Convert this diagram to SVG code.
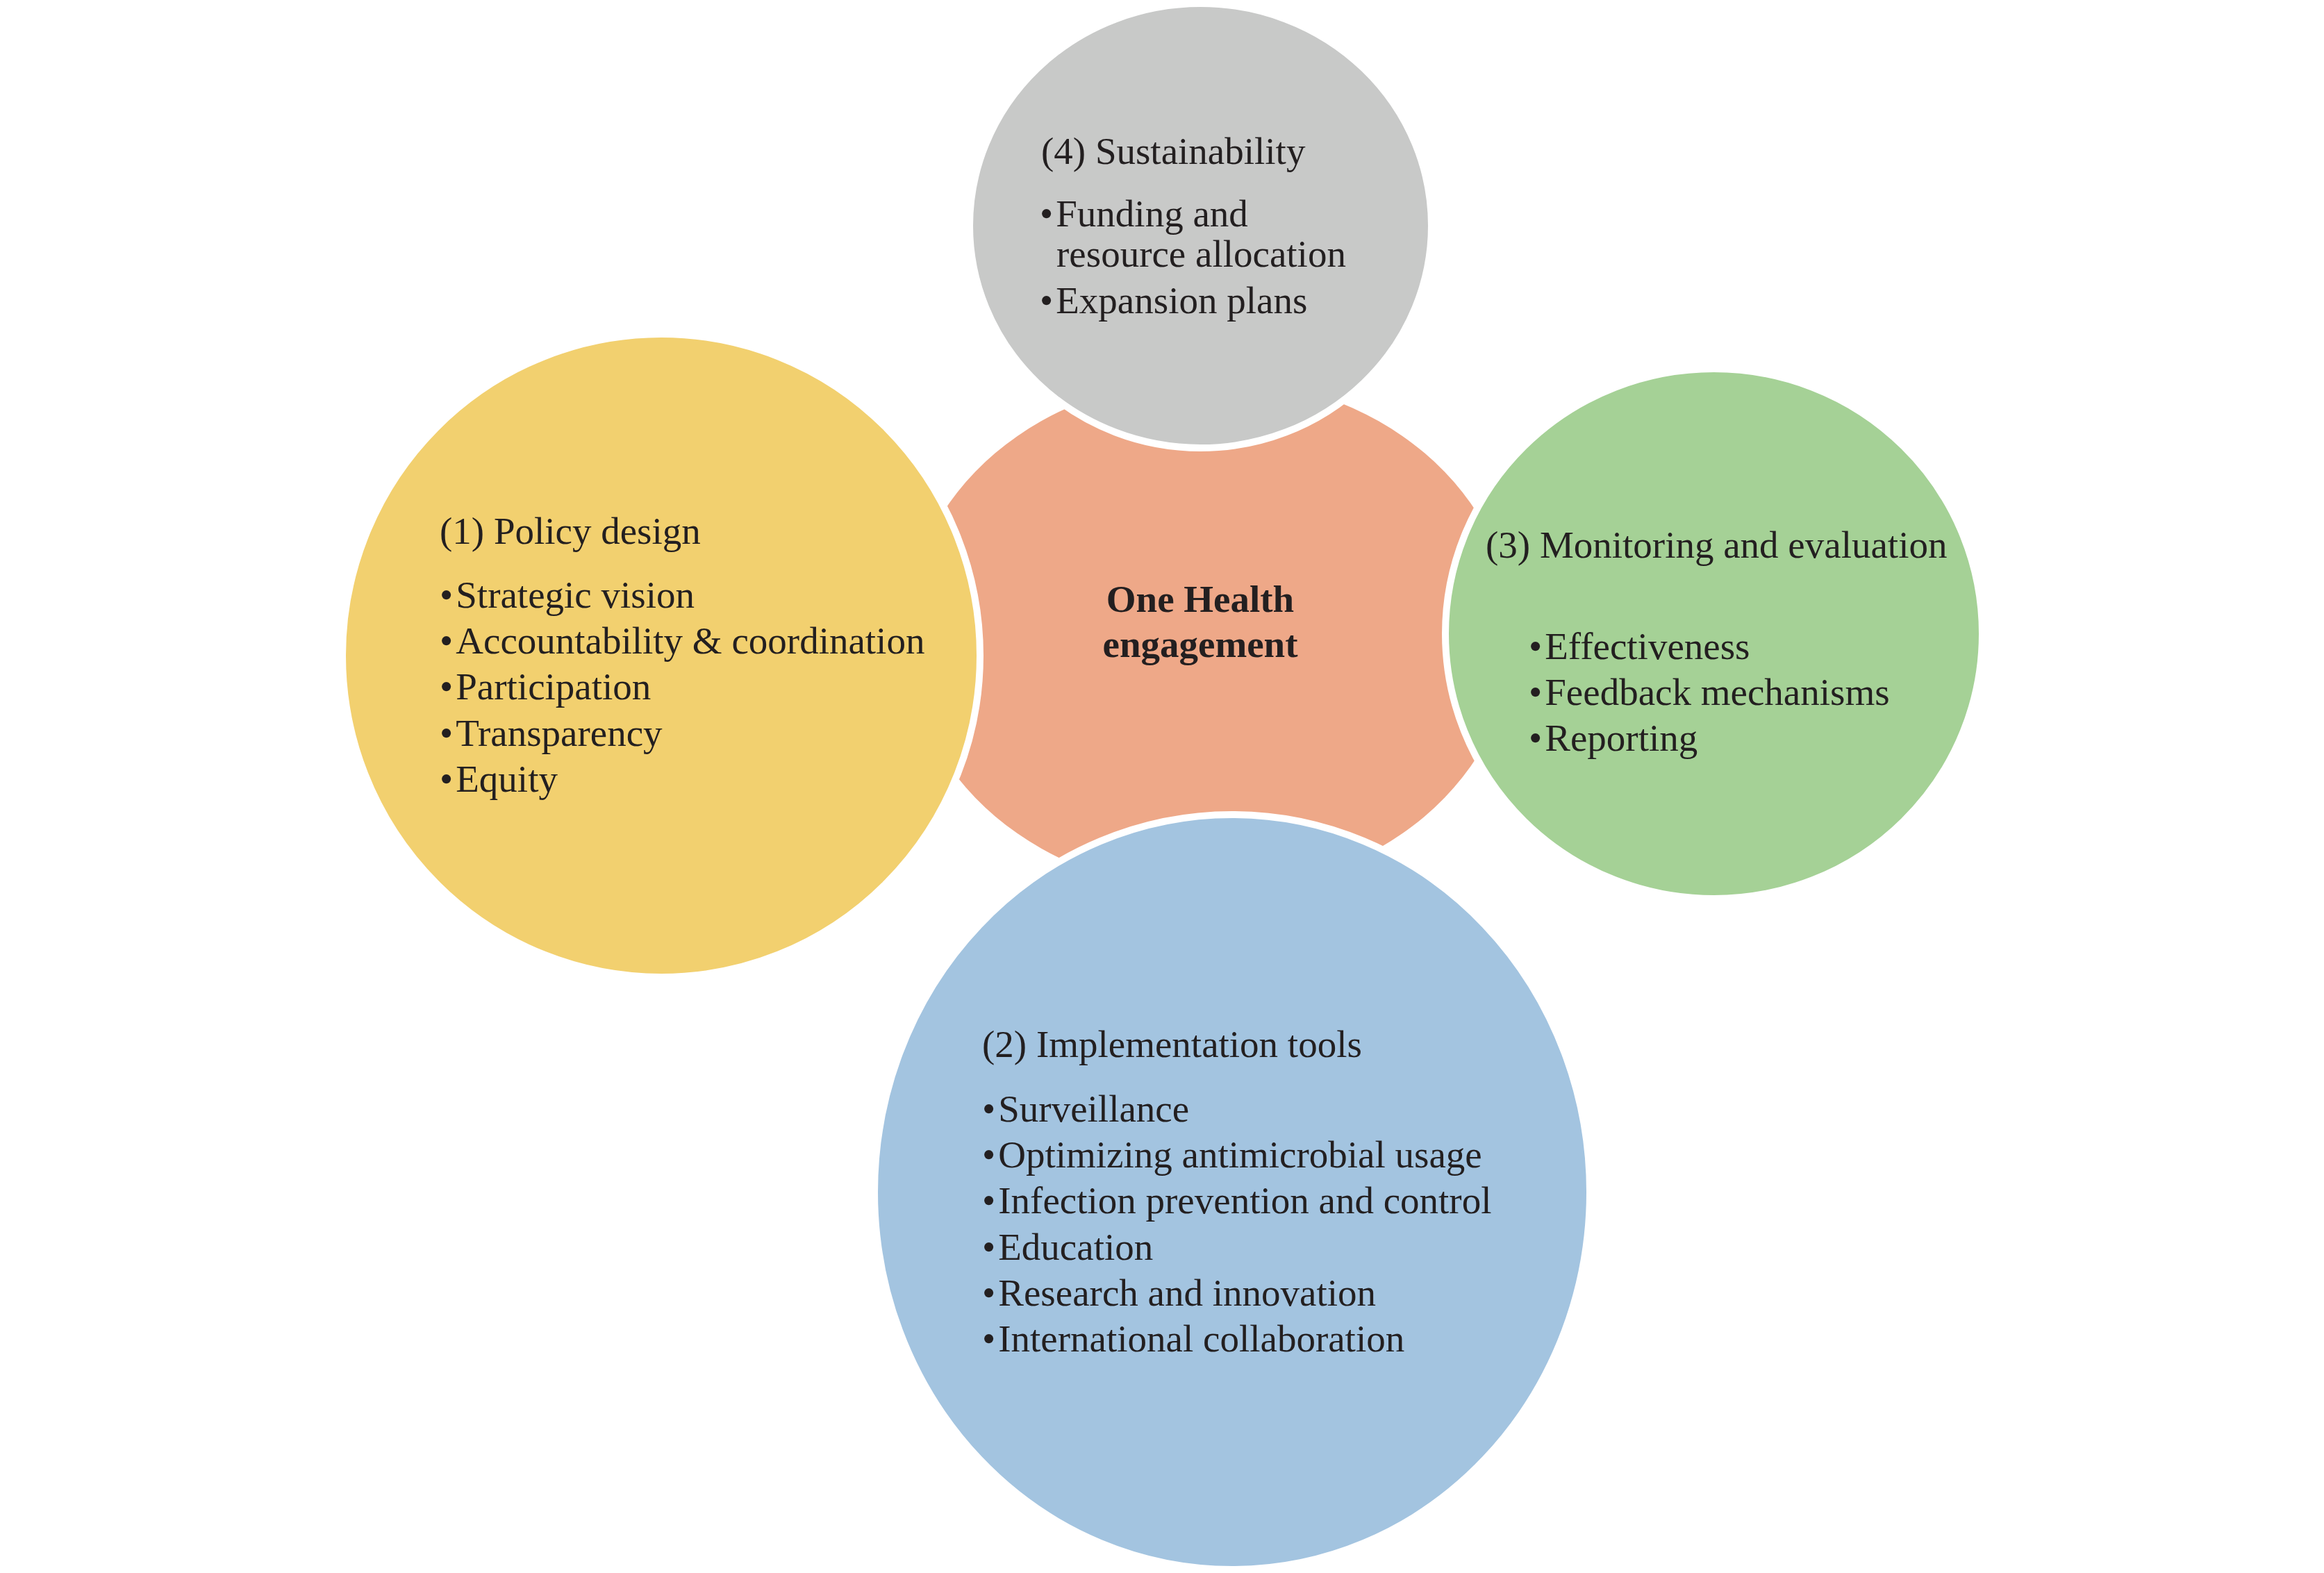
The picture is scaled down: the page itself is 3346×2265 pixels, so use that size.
<svg xmlns="http://www.w3.org/2000/svg" width="3346" height="2265" viewBox="0 0 3346 2265">
<style>
.sh{stroke:#FFFFFF;stroke-width:10}
.t{font-family:"Liberation Serif","Times New Roman",serif;font-size:55px;fill:#231F20}
.b{font-weight:bold}
</style>
<rect x="0" y="0" width="3346" height="2265" fill="#FFFFFF"/>
<g id="center">
<ellipse cx="1742" cy="914" rx="437" ry="370" fill="#EEA888"/>
<text class="t b" x="1728" y="881" text-anchor="middle">One Health</text>
<text class="t b" x="1728" y="946" text-anchor="middle">engagement</text>
</g>
<g id="node-policy">
<ellipse class="sh" cx="952" cy="944" rx="459" ry="463" fill="#F2D06F"/>
<text class="t" x="633" y="783">(1) Policy design</text>
<text class="t" x="633" y="875">•<tspan dx="4">Strategic vision</tspan></text>
<text class="t" x="633" y="941">•<tspan dx="4">Accountability &amp; coordination</tspan></text>
<text class="t" x="633" y="1007">•<tspan dx="4">Participation</tspan></text>
<text class="t" x="633" y="1074">•<tspan dx="4">Transparency</tspan></text>
<text class="t" x="633" y="1140">•<tspan dx="4">Equity</tspan></text>
</g>
<g id="node-sustainability">
<ellipse class="sh" cx="1728.5" cy="325" rx="332.5" ry="320" fill="#C8C9C8"/>
<text class="t" x="1499" y="236">(4) Sustainability</text>
<text class="t" x="1497" y="326">•<tspan dx="4">Funding and</tspan></text>
<text class="t" x="1521" y="384">resource allocation</text>
<text class="t" x="1497" y="451">•<tspan dx="4">Expansion plans</tspan></text>
</g>
<g id="node-monitoring">
<ellipse class="sh" cx="2467.5" cy="912.5" rx="386.5" ry="381.5" fill="#A5D196"/>
<text class="t" x="2139" y="803">(3) Monitoring and evaluation</text>
<text class="t" x="2201" y="949">•<tspan dx="4">Effectiveness</tspan></text>
<text class="t" x="2201" y="1015">•<tspan dx="4">Feedback mechanisms</tspan></text>
<text class="t" x="2201" y="1081">•<tspan dx="4">Reporting</tspan></text>
</g>
<g id="node-implementation">
<ellipse class="sh" cx="1774" cy="1716.5" rx="515" ry="543.5" fill="#A3C4E0"/>
<text class="t" x="1414" y="1522">(2) Implementation tools</text>
<text class="t" x="1414" y="1615">•<tspan dx="4">Surveillance</tspan></text>
<text class="t" x="1414" y="1681">•<tspan dx="4">Optimizing antimicrobial usage</tspan></text>
<text class="t" x="1414" y="1747">•<tspan dx="4">Infection prevention and control</tspan></text>
<text class="t" x="1414" y="1814">•<tspan dx="4">Education</tspan></text>
<text class="t" x="1414" y="1880">•<tspan dx="4">Research and innovation</tspan></text>
<text class="t" x="1414" y="1946">•<tspan dx="4">International collaboration</tspan></text>
</g>
<g id="connectors"/>
</svg>
